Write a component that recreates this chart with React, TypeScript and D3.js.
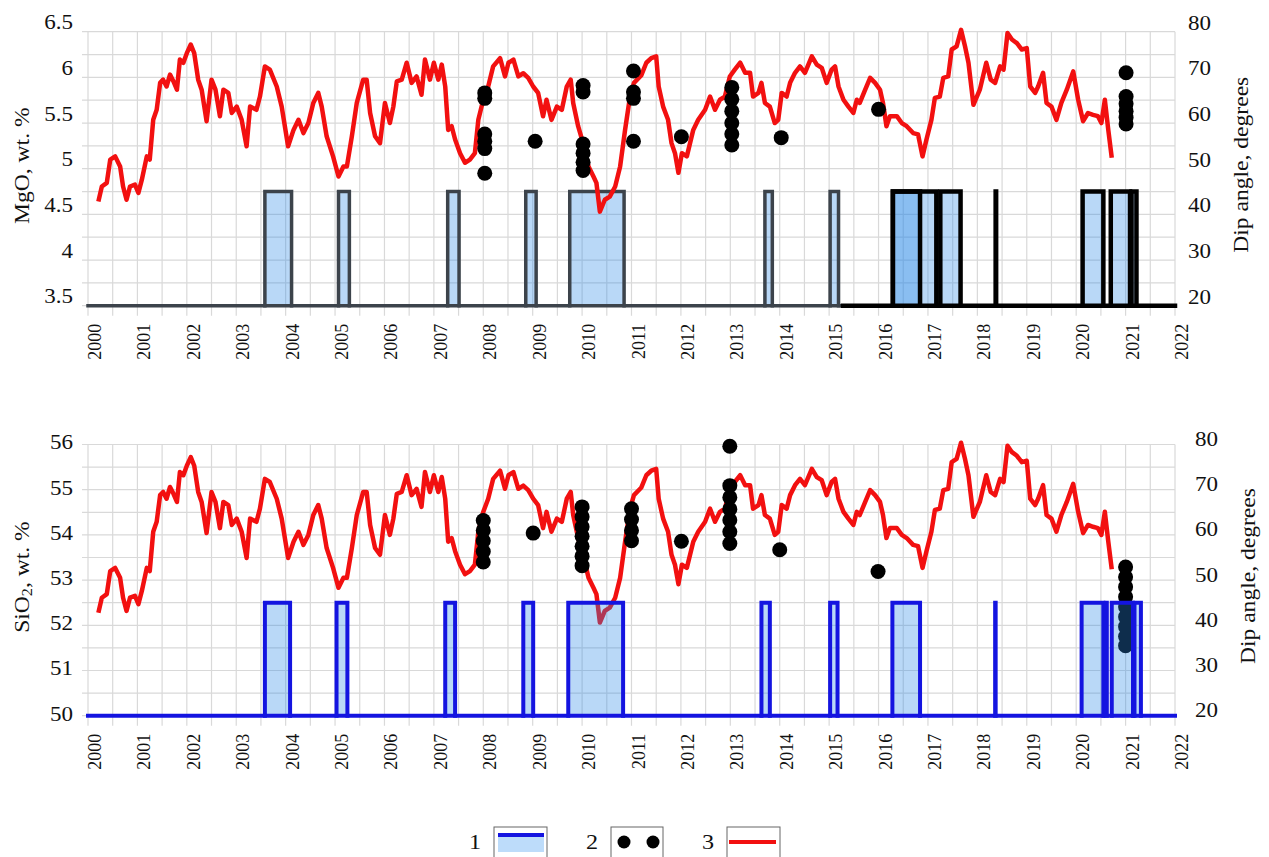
import React from "react";
import * as d3 from "d3";

// dip angle, degrees (red line, right axis) — same record in both panels
const dipAngle: [number, number][] = [
  [2000.21, 42.8], [2000.28, 46.1], [2000.38, 46.9], [2000.45, 52.0], [2000.55, 52.7], [2000.65, 50.5],
  [2000.71, 46.1], [2000.78, 43.2], [2000.85, 46.1], [2000.95, 46.5], [2001.02, 44.7], [2001.09, 47.6],
  [2001.19, 52.7], [2001.25, 52.0], [2001.32, 60.7], [2001.39, 62.9], [2001.46, 68.8], [2001.52, 69.5],
  [2001.59, 68.0], [2001.66, 70.6], [2001.73, 69.1], [2001.8, 67.3], [2001.86, 73.9], [2001.93, 73.2],
  [2002.0, 75.3], [2002.08, 77.2], [2002.15, 75.3], [2002.23, 69.5], [2002.3, 67.3], [2002.4, 60.4],
  [2002.5, 69.5], [2002.58, 67.3], [2002.67, 61.5], [2002.74, 67.3], [2002.84, 66.6], [2002.91, 62.2],
  [2003.01, 63.6], [2003.11, 60.7], [2003.21, 54.9], [2003.28, 63.6], [2003.41, 62.9], [2003.48, 65.8],
  [2003.58, 72.4], [2003.68, 71.7], [2003.82, 68.0], [2003.92, 63.6], [2004.05, 54.9], [2004.16, 58.5],
  [2004.26, 60.7], [2004.36, 57.8], [2004.46, 60.0], [2004.56, 64.4], [2004.66, 66.6], [2004.73, 63.6],
  [2004.83, 57.1], [2004.96, 52.7], [2005.07, 48.3], [2005.17, 50.5], [2005.24, 50.5], [2005.34, 57.1],
  [2005.44, 64.4], [2005.57, 69.5], [2005.64, 69.5], [2005.71, 62.2], [2005.81, 57.1], [2005.91, 55.6],
  [2006.01, 64.4], [2006.11, 60.0], [2006.18, 63.6], [2006.25, 69.1], [2006.35, 69.5], [2006.45, 73.2],
  [2006.55, 68.8], [2006.65, 70.2], [2006.75, 66.2], [2006.82, 73.9], [2006.92, 69.5], [2007.0, 73.2],
  [2007.09, 69.5], [2007.16, 72.8], [2007.23, 68.0], [2007.29, 58.5], [2007.36, 59.3], [2007.43, 56.4],
  [2007.53, 53.4], [2007.63, 51.3], [2007.73, 52.0], [2007.83, 53.4], [2007.9, 60.7], [2008.0, 65.1],
  [2008.1, 68.0], [2008.2, 72.4], [2008.34, 74.2], [2008.44, 70.2], [2008.51, 73.2], [2008.61, 73.9],
  [2008.71, 70.2], [2008.81, 70.9], [2008.91, 69.9], [2009.01, 68.0], [2009.11, 66.6], [2009.21, 61.5],
  [2009.28, 65.1], [2009.38, 60.7], [2009.49, 63.6], [2009.59, 62.9], [2009.69, 68.0], [2009.77, 69.5],
  [2009.82, 64.4], [2009.92, 59.3], [2010.02, 55.6], [2010.13, 50.5], [2010.23, 48.3], [2010.29, 46.9],
  [2010.36, 40.6], [2010.46, 43.2], [2010.56, 43.9], [2010.67, 46.1], [2010.77, 50.5], [2010.87, 58.5],
  [2010.97, 65.8], [2011.05, 68.8], [2011.2, 70.5], [2011.3, 73.2], [2011.4, 74.2], [2011.5, 74.6],
  [2011.55, 68.0], [2011.64, 63.6], [2011.74, 60.7], [2011.81, 55.6], [2011.88, 53.4], [2011.95, 49.1],
  [2012.02, 53.4], [2012.12, 52.7], [2012.25, 58.5], [2012.35, 60.7], [2012.49, 62.9], [2012.59, 65.8],
  [2012.69, 62.9], [2012.79, 65.1], [2012.89, 65.8], [2012.99, 70.2], [2013.09, 71.7], [2013.2, 73.2],
  [2013.3, 71.0], [2013.4, 71.0], [2013.46, 65.8], [2013.57, 66.6], [2013.63, 68.8], [2013.7, 64.4],
  [2013.8, 63.6], [2013.9, 60.0], [2013.97, 60.7], [2014.04, 66.6], [2014.14, 65.8], [2014.21, 68.8],
  [2014.31, 71.0], [2014.41, 72.4], [2014.51, 71.0], [2014.65, 74.6], [2014.75, 72.8], [2014.85, 72.1],
  [2014.95, 68.8], [2015.05, 71.7], [2015.12, 72.4], [2015.19, 68.0], [2015.29, 65.1], [2015.39, 63.6],
  [2015.49, 62.2], [2015.56, 65.1], [2015.62, 64.4], [2015.73, 67.3], [2015.83, 69.9], [2015.93, 68.8],
  [2016.03, 67.3], [2016.09, 64.4], [2016.16, 59.3], [2016.23, 61.5], [2016.37, 61.5], [2016.47, 60.0],
  [2016.57, 59.3], [2016.7, 57.8], [2016.8, 57.5], [2016.89, 52.7], [2016.97, 56.4], [2017.07, 60.7],
  [2017.14, 65.5], [2017.24, 65.8], [2017.31, 69.9], [2017.41, 70.2], [2017.48, 76.1], [2017.58, 76.8],
  [2017.67, 80.4], [2017.75, 76.8], [2017.82, 73.2], [2017.92, 64.0], [2018.05, 67.3], [2018.18, 73.2],
  [2018.27, 69.5], [2018.36, 68.8], [2018.46, 72.4], [2018.53, 71.7], [2018.61, 79.7], [2018.7, 78.3],
  [2018.8, 77.5], [2018.9, 76.1], [2019.0, 76.4], [2019.07, 68.0], [2019.17, 66.6], [2019.23, 68.0],
  [2019.33, 71.0], [2019.4, 64.4], [2019.5, 63.6], [2019.6, 60.7], [2019.7, 64.4], [2019.81, 67.3],
  [2019.94, 71.3], [2020.04, 65.1], [2020.14, 60.4], [2020.24, 62.2], [2020.34, 61.8], [2020.44, 61.5],
  [2020.51, 60.0], [2020.58, 65.1], [2020.65, 58.5], [2020.72, 52.4],
];

// black dots, [year, wt.%]
const mgoDots: [number, number][] = [
  [2008.03, 5.83], [2008.03, 5.77], [2008.03, 5.38], [2008.03, 5.3], [2008.03, 5.22], [2008.03, 4.95],
  [2009.05, 5.3],
  [2010.02, 5.91], [2010.02, 5.84], [2010.02, 5.27], [2010.02, 5.17], [2010.02, 5.07], [2010.02, 4.98],
  [2011.04, 6.07], [2011.04, 5.84], [2011.04, 5.77], [2011.04, 5.3],
  [2012.01, 5.35],
  [2013.03, 5.89], [2013.03, 5.76], [2013.03, 5.63], [2013.03, 5.5], [2013.03, 5.38], [2013.03, 5.26],
  [2014.03, 5.34],
  [2016.0, 5.65],
  [2021.01, 6.05], [2021.01, 5.79], [2021.01, 5.71], [2021.01, 5.63], [2021.01, 5.56], [2021.01, 5.49],
];

const sio2Dots: [number, number][] = [
  [2008.0, 54.32], [2008.0, 54.1], [2008.0, 53.87], [2008.0, 53.63], [2008.0, 53.4],
  [2009.01, 54.04],
  [2010.0, 54.62], [2010.0, 54.4], [2010.0, 54.18], [2010.0, 53.97], [2010.0, 53.75], [2010.0, 53.53], [2010.0, 53.32],
  [2011.0, 54.58], [2011.0, 54.34], [2011.0, 54.1], [2011.0, 53.87],
  [2012.01, 53.86],
  [2012.99, 55.96], [2012.99, 55.09], [2012.99, 54.83], [2012.99, 54.57], [2012.99, 54.33], [2012.99, 54.07], [2012.99, 53.81],
  [2014.0, 53.67],
  [2015.99, 53.19],
  [2021.0, 53.29], [2021.0, 53.07], [2021.0, 52.85], [2021.0, 52.63], [2021.0, 52.41], [2021.0, 52.19], [2021.0, 51.97], [2021.0, 51.75], [2021.0, 51.55],
];

// pulses of the step series (1), [start, end] in years, between 20 and 45 degrees
const mgoPulses: [number, number][] = [
  [2003.58, 2004.12], [2005.07, 2005.29], [2007.28, 2007.51], [2008.86, 2009.07], [2009.75, 2010.85],
  [2013.7, 2013.85], [2015.02, 2015.19], [2016.29, 2016.84], [2016.29, 2017.17], [2017.25, 2017.66],
  [2018.37, 2018.38], [2020.13, 2020.55], [2020.7, 2021.09], [2021.12, 2021.22],
];
const sio2Pulses: [number, number][] = [
  [2003.58, 2004.09], [2005.03, 2005.25], [2007.23, 2007.43], [2008.81, 2009.01], [2009.72, 2010.83],
  [2013.63, 2013.8], [2015.02, 2015.17], [2016.28, 2016.84], [2018.36, 2018.37], [2020.11, 2020.55],
  [2020.6, 2020.62], [2020.72, 2021.15], [2021.18, 2021.31],
];

const years = d3.range(2000, 2023);
const mgoTicks = [3.5, 4, 4.5, 5, 5.5, 6, 6.5];
const sio2Ticks = [50, 51, 52, 53, 54, 55, 56];
const dipTicks = [20, 30, 40, 50, 60, 70, 80];

const FONT = "'Liberation Serif', 'Times New Roman', Times, serif";
const RED = "#f21010";
const FILL = "rgb(43,137,231)";
const x = d3.scaleLinear().domain([2000, 2022]).range([88, 1175]);

function T({ x, y, rot = 0, anchor = "middle", size = 20, sx = 1.15, children }: any) {
  return (
    <text
      transform={`translate(${x},${y}) rotate(${rot}) scale(${sx},1)`}
      textAnchor={anchor}
      dominantBaseline="central"
      fontSize={size}
      fontFamily={FONT}
      fill="#111"
    >
      {children}
    </text>
  );
}

function Panel({ top, bottom, leftDomain, leftTicks, leftTitle, pulses, dots, blue, offL, offR, rightX }: any) {
  const yL = d3.scaleLinear().domain(leftDomain).range([bottom, top]);
  const yR = d3.scaleLinear().domain([20, 80]).range([bottom, top]);
  const line = d3.line<[number, number]>().x((d) => x(d[0])).y((d) => yR(d[1]));
  const hLines = d3.range(13).map((i) => top + ((bottom - top) * i) / 12);
  const vLines = d3.range(2000, 2022.01, 0.5);
  const split = 2015.28;
  const stepColor = (yr: number) => (blue ? "#1414e0" : yr < split ? "#3c434b" : "#000");
  const stepWidth = (yr: number) => (blue ? 4 : yr < split ? 3.5 : 4.5);

  const grid = (
    <g stroke="#d9d9d9" strokeWidth={1.2}>
      {hLines.map((y, i) => <line key={"h" + i} x1={82} x2={x(2022)} y1={y} y2={y} />)}
      {vLines.map((v, i) => <line key={"v" + i} x1={x(v)} x2={x(v)} y1={top} y2={bottom + 10} />)}
    </g>
  );
  const fills = (
    <g fill={FILL} fillOpacity={0.33}>
      {pulses.map((p: [number, number], i: number) => (
        <rect key={i} x={x(p[0])} y={yR(45)} width={x(p[1]) - x(p[0])} height={yR(20) - yR(45)} />
      ))}
    </g>
  );
  const baseSegs: [number, number][] = blue ? [[2000, 2022]] : [[2000, split], [split, 2022]];
  const steps = (
    <g fill="none" strokeLinejoin="miter" strokeLinecap="square">
      {baseSegs.map((s, i) => (
        <line key={"b" + i} x1={x(s[0])} x2={x(s[1])} y1={yR(20)} y2={yR(20)}
          stroke={stepColor(s[0])} strokeWidth={stepWidth(s[0])} />
      ))}
      {pulses.map((p: [number, number], i: number) => (
        <path key={i}
          d={`M${x(p[0])},${yR(20)}V${yR(45)}H${x(p[1])}V${yR(20)}`}
          stroke={stepColor(p[0])} strokeWidth={stepWidth(p[0])} />
      ))}
    </g>
  );
  const red = <path d={line(dipAngle) || ""} fill="none" stroke={RED} strokeWidth={4.5} strokeLinejoin="round" />;
  const pts = (
    <g fill="#000">
      {dots.map((d: [number, number], i: number) => <circle key={i} cx={x(d[0])} cy={yL(d[1])} r={7.5} />)}
    </g>
  );

  return (
    <g>
      {grid}
      {blue ? (
        <>
          {red}
          {pts}
          {fills}
          {steps}
        </>
      ) : (
        <>
          {fills}
          {steps}
          {red}
          {pts}
        </>
      )}
      {leftTicks.map((t: number) => (
        <T key={"l" + t} x={73} y={yL(t) + offL} anchor="end">{t}</T>
      ))}
      {dipTicks.map((t) => (
        <T key={"r" + t} x={rightX} y={yR(t) + offR} anchor="start">{t}</T>
      ))}
      {years.map((yr) => (
        <T key={"y" + yr} x={x(yr) + 7} y={bottom + 18} rot={-90} anchor="end" size={18} sx={1}>{yr}</T>
      ))}
      <T x={22} y={(top + bottom) / 2 - 3} rot={-90} size={20.5}>{leftTitle}</T>
      <T x={rightX + 53} y={(top + bottom) / 2 - 4} rot={-90} size={20.5}>Dip angle, degrees</T>
    </g>
  );
}

export default function App() {
  return (
    <svg width={1269} height={857} style={{ position: "absolute", left: 0, top: 0, background: "#fff" }}>
      <Panel
        top={31.7} bottom={305.7} leftDomain={[3.5, 6.5]} leftTicks={mgoTicks}
        leftTitle="MgO, wt. %"
        pulses={mgoPulses} dots={mgoDots} blue={false} offL={-9} offR={-8.5} rightX={1188}
      />
      <Panel
        top={444.5} bottom={715.7} leftDomain={[50, 56]} leftTicks={sio2Ticks}
        leftTitle={<><tspan>SiO</tspan><tspan fontSize={14} dy={5}>2</tspan><tspan dy={-5}>, wt. %</tspan></>}
        pulses={sio2Pulses} dots={sio2Dots} blue={true} offL={-1.5} offR={-5} rightX={1195}
      />
      {/* legend */}
      <g>
        <T x={475} y={842} size={21}>1</T>
        <rect x={494} y={827} width={53} height={34} fill="none" stroke="#666" />
        <rect x={498} y={836} width={46} height={16} fill="#bddcfa" />
        <line x1={498} x2={544} y1={835} y2={835} stroke="#1414e0" strokeWidth={4} />
        <T x={592} y={842} size={21}>2</T>
        <rect x={611} y={827} width={52} height={34} fill="none" stroke="#666" />
        <circle cx={624} cy={842} r={6.5} fill="#000" />
        <circle cx={653} cy={842} r={6.5} fill="#000" />
        <T x={708} y={842} size={21}>3</T>
        <rect x={727} y={827} width={53} height={34} fill="none" stroke="#666" />
        <line x1={729} x2={776} y1={842} y2={842} stroke={RED} strokeWidth={4} />
      </g>
    </svg>
  );
}
